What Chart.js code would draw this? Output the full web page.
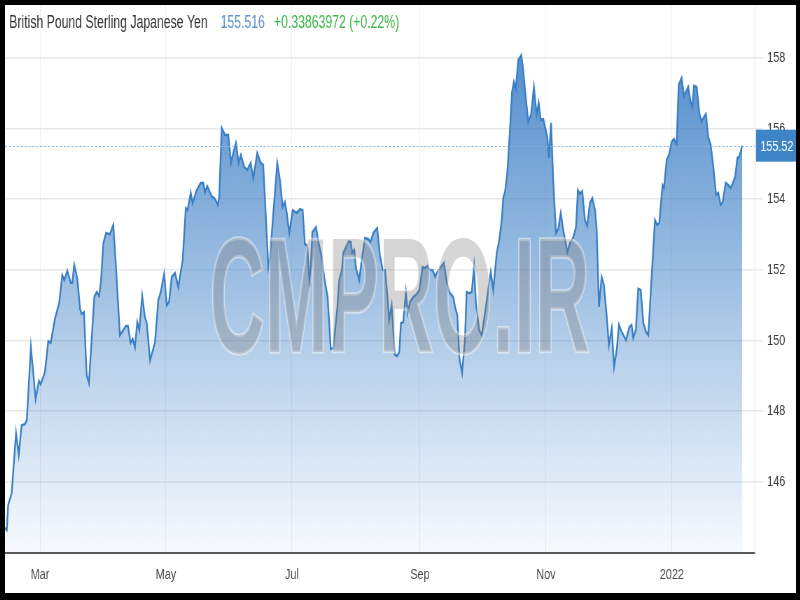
<!DOCTYPE html>
<html><head><meta charset="utf-8">
<script src="https://cdn.jsdelivr.net/npm/chart.js@4.4.1/dist/chart.umd.min.js"></script>
<style>
html,body{margin:0;padding:0;background:#000;width:800px;height:600px;overflow:hidden;}
#c{position:absolute;left:5px;top:5px;background:#fff;}
</style></head><body>
<canvas id="c" width="1130" height="588" style="width:791px;height:588px"></canvas>
<script>
const seriesName = 'British Pound Sterling Japanese Yen';
const lastQuote = '155.516';
const changeText = '+0.33863972 (+0.22%)';
const watermark = 'CMPRO.IR';

// day of year 2021 (0 = Jan 1 2021)
const dayOfYear = [
42.1,42.9,43.6,45.3,47.4,48.7,50.1,51.7,52.6,54.6,
56.9,58.5,59.3,61.4,63.0,64.2,66.3,68.3,69.8,70.8,
72.2,73.9,74.6,75.6,77.1,78.4,79.2,80.3,81.6,82.7,
85.3,86.5,87.6,88.5,89.7,91.0,92.9,94.5,95.8,97.7,
100.6,101.6,102.9,103.9,105.0,106.1,107.1,108.5,109.8,110.7,
112.3,113.7,114.7,116.3,117.5,119.1,120.4,121.5,122.8,124.4,
126.0,128.1,129.6,130.5,132.0,132.9,134.9,136.8,138.1,138.9,
140.0,142.1,143.7,145.1,145.8,147.0,148.6,150.2,151.5,152.6,
153.9,155.2,156.3,157.9,159.4,161.0,162.3,164.2,165.9,167.1,
169.6,170.4,172.0,173.9,175.2,176.5,177.6,178.5,179.7,181.4,
183.3,184.9,186.2,187.3,188.4,189.7,190.9,192.7,193.8,195.4,
196.7,198.3,199.8,201.0,203.0,203.9,205.2,205.9,207.2,208.6,
209.5,210.2,211.2,212.0,213.6,214.8,216.4,218.0,219.1,220.4,
222.3,223.6,225.0,226.1,227.2,228.1,229.3,230.1,230.9,232.0,
233.0,233.8,234.9,236.2,237.1,238.2,239.8,241.4,242.7,244.3,
245.4,246.6,247.9,249.2,250.3,251.4,253.5,254.6,256.0,257.2,
259.1,260.0,261.1,262.1,263.4,264.8,265.6,266.9,268.1,269.2,
270.1,271.7,272.9,274.5,275.6,277.3,278.5,280.2,281.4,282.6,
283.4,284.2,285.3,286.6,287.6,288.5,289.4,290.6,292.1,293.0,
294.2,295.5,296.8,298.2,299.5,300.5,301.5,302.7,303.7,304.7,
305.5,306.5,307.6,308.9,310.0,311.2,312.4,314.4,315.7,317.3,
318.6,319.5,320.5,321.6,322.9,324.0,325.3,326.5,327.8,328.6,
329.7,331.0,332.1,333.4,334.5,335.9,337.0,338.3,339.4,340.7,
342.8,344.4,345.5,346.3,347.6,348.7,349.9,351.2,352.5,353.6,
355.2,356.8,357.9,358.9,360.5,361.2,362.5,363.7,364.9,366.0,
367.3,368.3,369.7,370.9,371.8,372.9,374.1,374.9,375.7,377.0,
378.3,379.4,380.5,381.5,382.6,383.8,385.1,386.4,387.5,388.6,
389.6,391.1,392.3,393.5,394.7,395.7,396.7,397.6,399.1
];
const gbpJpy = [
144.69,144.63,145.34,145.68,147.38,146.75,147.60,147.63,147.74,149.81,
148.34,148.85,148.76,149.10,149.98,149.93,150.63,151.06,151.85,151.71,
151.97,151.63,151.63,152.14,151.74,150.89,150.75,150.80,149.02,148.79,
151.23,151.37,151.26,151.65,152.76,153.04,153.01,153.27,152.08,150.15,
150.41,150.41,149.93,150.04,149.81,150.52,150.29,151.26,150.66,150.49,
149.44,149.73,149.95,151.14,151.37,151.88,151.00,151.09,151.80,151.91,
151.51,152.28,153.75,153.69,154.18,153.89,154.26,154.46,154.46,154.20,
154.37,154.09,154.01,153.84,154.06,156.02,155.82,155.82,155.03,155.31,
155.59,155.03,155.25,154.91,154.83,155.03,154.60,155.31,155.03,154.97,
152.08,152.36,153.61,155.03,154.54,153.78,153.92,153.61,153.04,153.69,
153.61,153.72,153.69,152.73,152.70,151.51,153.07,153.21,152.79,152.36,
151.77,151.23,149.76,149.78,150.92,151.71,151.99,152.48,152.65,152.82,
152.79,152.48,152.56,152.05,151.71,152.28,152.90,152.87,152.79,153.04,
153.18,152.42,151.99,151.99,151.29,150.58,151.00,150.24,149.59,149.56,
149.67,150.49,150.52,151.37,150.78,151.09,151.23,151.31,151.43,152.08,
152.05,152.11,151.99,151.99,151.80,151.94,152.11,152.19,151.65,151.37,
151.23,150.95,150.72,149.50,149.08,150.01,151.37,151.34,151.37,152.08,
151.06,150.29,150.15,150.78,151.23,151.94,151.43,152.48,152.84,153.41,
154.06,154.20,154.74,155.96,157.04,157.32,157.12,157.94,158.08,157.66,
156.90,156.19,156.39,157.18,156.39,156.73,156.24,156.27,156.02,155.76,
155.17,156.16,154.46,153.04,153.16,153.61,153.13,152.50,152.76,152.93,
153.21,154.26,154.15,154.23,153.41,153.24,153.89,154.03,153.69,153.13,
150.95,151.80,151.57,150.72,149.87,150.35,149.25,149.73,150.44,150.24,
150.01,150.38,150.44,150.07,150.32,151.46,151.43,150.49,150.24,150.15,
151.80,153.41,153.27,153.33,154.40,154.32,155.11,155.28,155.62,155.71,
155.54,157.24,157.43,156.92,157.04,157.18,156.75,156.61,157.21,157.18,
156.44,156.19,156.33,156.41,155.76,155.54,154.91,154.12,154.18,153.84,
153.92,154.46,154.40,154.32,154.49,154.63,155.17,155.20,155.516
];
const monthTicks = [59, 120, 181, 243, 304, 365];
const monthLabels = ['Mar', 'May', 'Jul', 'Sep', 'Nov', '2022'];
const yTicks = [146, 148, 150, 152, 154, 156, 158];

const FONT = '"Liberation Sans", Arial, sans-serif';
const points = dayOfYear.map((d, i) => ({ x: d, y: gbpJpy[i] }));
const lastValue = gbpJpy[gbpJpy.length - 1];

const overlay = {
  id: 'overlay',
  afterDatasetsDraw(chart) {
    const { ctx } = chart;
    // watermark
    ctx.save();
    ctx.font = 'bold 163px ' + FONT;
    const w = ctx.measureText(watermark).width;
    const sx = 543 / w;
    ctx.translate(564, 288.5);
    ctx.scale(sx, 1);
    ctx.textAlign = 'center';
    ctx.textBaseline = 'alphabetic';
    ctx.lineWidth = 3.5;
    ctx.strokeStyle = 'rgba(255,255,255,0.45)';
    ctx.strokeText(watermark, 0, 58.5);
    ctx.fillStyle = 'rgba(125,125,125,0.32)';
    ctx.fillText(watermark, 0, 58.5);
    ctx.restore();
  },
  afterDraw(chart) {
    const { ctx, chartArea: a, scales } = chart;
    const y = scales.y.getPixelForValue(lastValue);
    ctx.save();
    // dotted current-value line
    ctx.setLineDash([2.8, 2.8]);
    ctx.strokeStyle = '#86b3e0';
    ctx.lineWidth = 1;
    ctx.beginPath();
    ctx.moveTo(a.left, Math.round(y) + 0.5);
    ctx.lineTo(a.right, Math.round(y) + 0.5);
    ctx.stroke();
    ctx.setLineDash([]);
    // value box
    const bx = a.right + 1.5;
    ctx.fillStyle = '#3d85c6';
    ctx.fillRect(bx, y - 16, chart.width - bx, 32);
    ctx.fillStyle = '#ffffff';
    ctx.font = '15.5px ' + FONT;
    ctx.textBaseline = 'middle';
    ctx.textAlign = 'left';
    ctx.fillText(lastValue.toFixed(2), bx + 6, y + 1);
    // title
    ctx.font = '17.5px ' + FONT;
    ctx.textBaseline = 'alphabetic';
    let x = 6;
    ctx.fillStyle = '#333333';
    ctx.fillText(seriesName, x, 22.5);
    x += ctx.measureText(seriesName).width + 18.6;
    ctx.fillStyle = '#5d93d1';
    ctx.fillText(lastQuote, x, 22.5);
    x += ctx.measureText(lastQuote).width + 12.9;
    ctx.fillStyle = '#3db649';
    ctx.fillText(changeText, x, 22.5);
    ctx.restore();
  }
};

new Chart(document.getElementById('c'), {
  type: 'line',
  data: {
    datasets: [{
      label: seriesName,
      data: points,
      borderColor: '#3a7fc4',
      borderWidth: 2.4,
      pointRadius: 0,
      tension: 0,
      fill: 'start',
      backgroundColor(ctx) {
        const a = ctx.chart.chartArea;
        if (!a) return 'rgba(62,128,198,0.5)';
        const g = ctx.chart.ctx.createLinearGradient(0, a.top, 0, a.bottom);
        g.addColorStop(0, 'rgba(62,128,198,0.97)');
        g.addColorStop(1, 'rgba(62,128,198,0.04)');
        return g;
      }
    }]
  },
  options: {
    responsive: false,
    animation: false,
    devicePixelRatio: 1,
    layout: { padding: 0 },
    plugins: { legend: { display: false }, tooltip: { enabled: false }, title: { display: false } },
    scales: {
      x: {
        type: 'linear',
        min: 42.05,
        max: 405.25,
        afterBuildTicks(scale) { scale.ticks = monthTicks.map(v => ({ value: v })); },
        afterFit(scale) { scale.height = 40; scale.paddingLeft = 0; scale.paddingRight = 0; },
        ticks: {
          callback(v) { const i = monthTicks.indexOf(v); return i >= 0 ? monthLabels[i] : ''; },
          font: { family: FONT, size: 15.5 },
          color: '#4a4a4a',
          padding: 12,
          maxRotation: 0,
          autoSkip: false
        },
        grid: { color: '#eceff3', lineWidth: 1, drawTicks: false },
        border: { display: true, color: '#5a5a5a', width: 2 }
      },
      y: {
        position: 'right',
        min: 143.98,
        max: 159.5,
        afterBuildTicks(scale) { scale.ticks = yTicks.map(v => ({ value: v })); },
        afterFit(scale) { scale.width = 58.6; scale.paddingTop = 0; scale.paddingBottom = 0; },
        ticks: {
          font: { family: FONT, size: 15.5 },
          color: '#3a3a3a',
          padding: 6
        },
        grid: { color: '#e8e8e8', lineWidth: 1.5, tickLength: 11.4 },
        border: { display: true, color: '#e6e6e6', width: 1 }
      }
    }
  },
  plugins: [overlay]
});
</script>
</body></html>
